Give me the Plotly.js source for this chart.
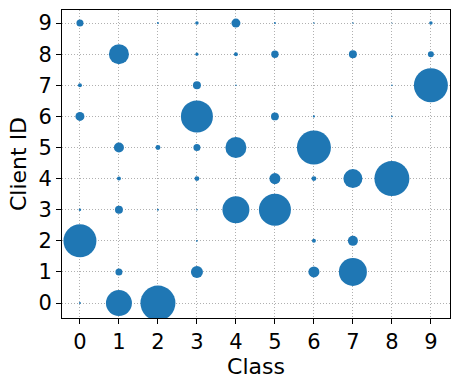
<!DOCTYPE html>
<html>
<head>
<meta charset="utf-8">
<script src="https://cdn.plot.ly/plotly-3.0.1.min.js"></script>
<style>
  body { margin: 0; background: #fff; }
  #chart { width: 459px; height: 389px; }
</style>
</head>
<body>
<div id="chart"></div>
<script>
// one entry per (class, client) pair with samples
var classes = [0, 2, 3, 4, 5, 6, 7, 8, 9,
               1, 3, 4, 5, 7, 9,
               0, 3, 4, 8, 9,
               0, 3, 5, 6, 8,
               1, 2, 3, 4, 6,
               1, 3, 5, 6, 7, 8,
               0, 1, 2, 3, 4, 5,
               0, 3, 6, 7,
               1, 3, 6, 7,
               0, 1, 2];
var clients = [9, 9, 9, 9, 9, 9, 9, 9, 9,
               8, 8, 8, 8, 8, 8,
               7, 7, 7, 7, 7,
               6, 6, 6, 6, 6,
               5, 5, 5, 5, 5,
               4, 4, 4, 4, 4, 4,
               3, 3, 3, 3, 3, 3,
               2, 2, 2, 2,
               1, 1, 1, 1,
               0, 0, 0];
var counts = [40, 3, 10, 66, 3, 2, 2, 1, 10,
              327, 8, 13, 45, 52, 29,
              13, 52, 2, 2, 944,
              66, 836, 50, 4, 2,
              82, 20, 40, 360, 944,
              13, 20, 99, 20, 295, 1000,
              5, 52, 3, 2, 595, 836,
              889, 3, 13, 82,
              40, 118, 99, 640,
              3, 552, 1000];
var tickVals = [0, 1, 2, 3, 4, 5, 6, 7, 8, 9];

var maxCount = Math.max.apply(null, counts);

var data = [{
    x: classes,
    y: clients,
    mode: 'markers',
    type: 'scatter',
    marker: {
        size: counts,
        sizemode: 'area',
        sizeref: 2 * maxCount / (35 * 35),
        color: '#1f77b4',
        opacity: 1,
        line: {width: 0}
    },
    hoverinfo: 'x+y'
}];

var axisStyle = {
    tickvals: tickVals,
    ticks: 'outside',
    ticklen: 5,
    tickwidth: 1,
    tickcolor: '#000',
    tickfont: {family: 'DejaVu Sans', size: 21, color: '#000'},
    showline: true,
    linecolor: '#000',
    linewidth: 1,
    mirror: true,
    showgrid: true,
    gridcolor: '#b0b0b0',
    griddash: '1px,2px',
    gridwidth: 1,
    zeroline: false,
    layer: 'above traces'
};

var layout = {
    width: 459,
    height: 389,
    margin: {l: 62, r: 9, t: 10, b: 71},
    paper_bgcolor: '#fff',
    plot_bgcolor: '#fff',
    showlegend: false,
    font: {family: 'DejaVu Sans', color: '#000'},
    xaxis: Object.assign({}, axisStyle, {
        range: [-0.46, 9.49],
        title: {text: 'Class', font: {size: 22}, standoff: 5}
    }),
    yaxis: Object.assign({}, axisStyle, {
        range: [-0.48, 9.42],
        title: {text: 'Client ID', font: {size: 22}, standoff: 5}
    })
};

Plotly.newPlot('chart', data, layout, {displayModeBar: false, staticPlot: true});
</script>
</body>
</html>
